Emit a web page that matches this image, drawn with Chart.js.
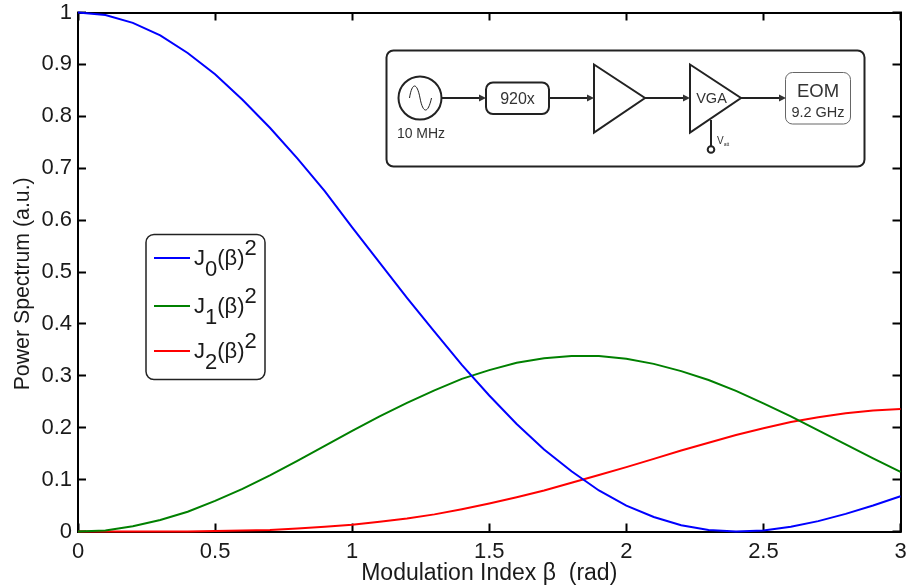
<!DOCTYPE html>
<html>
<head>
<meta charset="utf-8">
<title>Power spectrum</title>
<script src="https://cdn.jsdelivr.net/npm/chart.js@4"></script>
<style>
html, body { margin: 0; padding: 0; background: #fff; }
#wrap { position: relative; width: 911px; height: 588px; overflow: hidden; }
#myChart { position: absolute; left: 0; top: 0; }
#overlay { position: absolute; left: 0; top: 0; pointer-events: none; font-family: "Liberation Sans", Arial, sans-serif; }
</style>
</head>
<body>
<div id="wrap">
<canvas id="myChart" width="911" height="588"></canvas>
<svg id="overlay" width="911" height="588" viewBox="0 0 911 588">
  <!-- block diagram inset -->
  <g fill="none" stroke="#222" stroke-width="2">
    <rect x="386.5" y="50.5" width="478" height="116" rx="7" fill="#fff"/>
    <circle cx="420" cy="98" r="21.5"/>
    <path stroke-width="1" d="M409.5 98 C412 82 417 82 420 98 C423 114 428 114 431.5 98"/>
    <rect x="486" y="82.5" width="63" height="31.5" rx="7"/>
    <path d="M594 64.5 L645 98 L594 132.5 Z"/>
    <path d="M690 64.5 L741 98 L690 132.5 Z"/>
    <path d="M441.5 98 H480 M549 98 H588 M645 98 H684 M741 98 H780"/>
    <path d="M711 120 V146.5"/>
    <circle cx="711" cy="149.5" r="3.3"/>
    <rect x="785.5" y="72.5" width="65" height="51.5" rx="7" stroke="#666" stroke-width="1"/>
  </g>
  <g fill="#333">
    <path d="M479 94.5 L486 98 L479 101.5 Z"/>
    <path d="M587 94.5 L594 98 L587 101.5 Z"/>
    <path d="M683 94.5 L690 98 L683 101.5 Z"/>
    <path d="M779 94.5 L786 98 L779 101.5 Z"/>
    <text x="517.5" y="103.5" font-size="16" text-anchor="middle">920x</text>
    <text x="711.5" y="103" font-size="14.5" text-anchor="middle">VGA</text>
    <text x="818" y="97" font-size="18.5" text-anchor="middle">EOM</text>
    <text x="818" y="116.5" font-size="14.5" text-anchor="middle">9.2 GHz</text>
    <text x="421" y="137.5" font-size="14" text-anchor="middle">10 MHz</text>
    <text x="717" y="144" font-size="10">V<tspan font-size="5" dy="2">att</tspan></text>
  </g>
  <g id="legendBox"></g>
</svg>
</div>
<script>
const betaValues = [0, 0.1, 0.2, 0.3, 0.4, 0.5, 0.6, 0.7, 0.8, 0.9, 1, 1.1, 1.2, 1.3, 1.4, 1.5, 1.6, 1.7, 1.8, 1.9, 2, 2.1, 2.2, 2.3, 2.4, 2.5, 2.6, 2.7, 2.8, 2.9, 3];
const j0Values = [1, 0.995, 0.98, 0.956, 0.922, 0.881, 0.832, 0.778, 0.719, 0.656, 0.586, 0.518, 0.45, 0.385, 0.321, 0.262, 0.207, 0.158, 0.116, 0.079, 0.05, 0.028, 0.012, 0.003, 0, 0.002, 0.009, 0.02, 0.034, 0.05, 0.068];
const j1Values = [0, 0.002, 0.01, 0.022, 0.038, 0.059, 0.082, 0.108, 0.136, 0.165, 0.194, 0.222, 0.248, 0.272, 0.294, 0.311, 0.325, 0.334, 0.338, 0.338, 0.333, 0.323, 0.309, 0.292, 0.271, 0.247, 0.222, 0.195, 0.168, 0.141, 0.115];
const j2Values = [0, 0, 0, 0, 0, 0.001, 0.002, 0.003, 0.006, 0.009, 0.013, 0.019, 0.025, 0.033, 0.043, 0.054, 0.066, 0.079, 0.094, 0.109, 0.124, 0.14, 0.156, 0.171, 0.186, 0.199, 0.211, 0.22, 0.228, 0.233, 0.236];
const seriesIndex = ["0", "1", "2"];
const seriesColors = ["#0000ff", "#008000", "#ff0000"];
const xTicks = [0, 0.5, 1, 1.5, 2, 2.5, 3];
const yTicks = [0, 0.1, 0.2, 0.3, 0.4, 0.5, 0.6, 0.7, 0.8, 0.9, 1];

const fontName = '"Liberation Sans", Arial, sans-serif';
const ink = "#1a1a1a";

function toPoints(values) {
    return values.map((v, i) => ({ x: betaValues[i], y: v }));
}

function makeDataset(values, i) {
    return {
        label: "J" + seriesIndex[i] + "(\u03b2)\u00b2",
        data: toPoints(values),
        borderColor: seriesColors[i],
        borderWidth: 2,
        pointRadius: 0,
        tension: 0,
        clip: false
    };
}

// the fixed sizes keep the plot box where it is, labels may hang over its edges
function fixSize(axis, w, h) {
    if (w !== null) axis.width = w;
    if (h !== null) axis.height = h;
    axis.paddingTop = 0;
    axis.paddingBottom = 0;
    axis.paddingLeft = 0;
    axis.paddingRight = 0;
}

function axisBase(ticksList) {
    return {
        type: "linear",
        min: ticksList[0],
        max: ticksList[ticksList.length - 1],
        afterBuildTicks: (axis) => { axis.ticks = ticksList.map(v => ({ value: v })); },
        border: { color: "#000", width: 2 },
        grid: { drawOnChartArea: false, drawTicks: true, tickLength: -8, tickColor: "#000", tickWidth: 2 }
    };
}

// main axes carry labels, the mirrored ones only ticks
const xAxis = axisBase(xTicks);
xAxis.position = "bottom";
xAxis.ticks = { color: ink, padding: 15, maxRotation: 0, autoSkip: false, font: { family: fontName, size: 22 }, callback: v => String(v) };
xAxis.title = { display: true, text: "Modulation Index \u03b2  (rad)", color: ink, font: { family: fontName, size: 23 }, padding: 0 };
xAxis.afterFit = (axis) => fixSize(axis, null, 56);

const yAxis = axisBase(yTicks);
yAxis.position = "left";
yAxis.ticks = { color: ink, padding: 14, autoSkip: false, font: { family: fontName, size: 22 }, callback: v => String(v) };
// trailing spaces push the title down, it sits below the plot centre in the original
yAxis.title = { display: true, text: "Power Spectrum (a.u.)\u00a0\u00a0\u00a0\u00a0", color: ink, font: { family: fontName, size: 21.3 }, padding: 0 };
yAxis.afterFit = (axis) => fixSize(axis, 68, null);

const xTop = axisBase(xTicks);
xTop.position = "top";
xTop.ticks = { display: false };
xTop.afterFit = (axis) => fixSize(axis, null, 0);

const yRight = axisBase(yTicks);
yRight.position = "right";
yRight.ticks = { display: false };
yRight.afterFit = (axis) => fixSize(axis, 0, null);

new Chart(document.getElementById("myChart").getContext("2d"), {
    type: "line",
    data: { datasets: [j0Values, j1Values, j2Values].map(makeDataset) },
    options: {
        responsive: false,
        animation: false,
        parsing: false,
        layout: { padding: { left: 10, right: 10.5, top: 12.5, bottom: 0.5 } },
        plugins: { legend: { display: false }, tooltip: { enabled: false } },
        scales: { x: xAxis, y: yAxis, xTop: xTop, yRight: yRight }
    }
});

// legend with sub and superscripts, built from the series lists
const svgNS = "http://www.w3.org/2000/svg";
const legendBox = document.getElementById("legendBox");
const legendRows = [258, 306, 351];

function addEl(parent, name, attrs, text) {
    const el = document.createElementNS(svgNS, name);
    Object.keys(attrs).forEach(k => el.setAttribute(k, attrs[k]));
    if (text) el.textContent = text;
    parent.appendChild(el);
    return el;
}

addEl(legendBox, "rect", { x: 146, y: 234.5, width: 119, height: 145, rx: 8, fill: "#fff", stroke: "#222", "stroke-width": 1.5 });
seriesIndex.forEach((idx, i) => {
    const y = legendRows[i];
    addEl(legendBox, "line", { x1: 154, x2: 190, y1: y, y2: y, stroke: seriesColors[i], "stroke-width": 2 });
    const t = addEl(legendBox, "text", { x: 194, y: y + 7, "font-size": 22, fill: ink });
    addEl(t, "tspan", {}, "J");
    addEl(t, "tspan", { dy: 11 }, idx);
    addEl(t, "tspan", { dy: -11 }, "(\u03b2)");
    addEl(t, "tspan", { dy: -10 }, "2");
});
</script>
</body>
</html>
